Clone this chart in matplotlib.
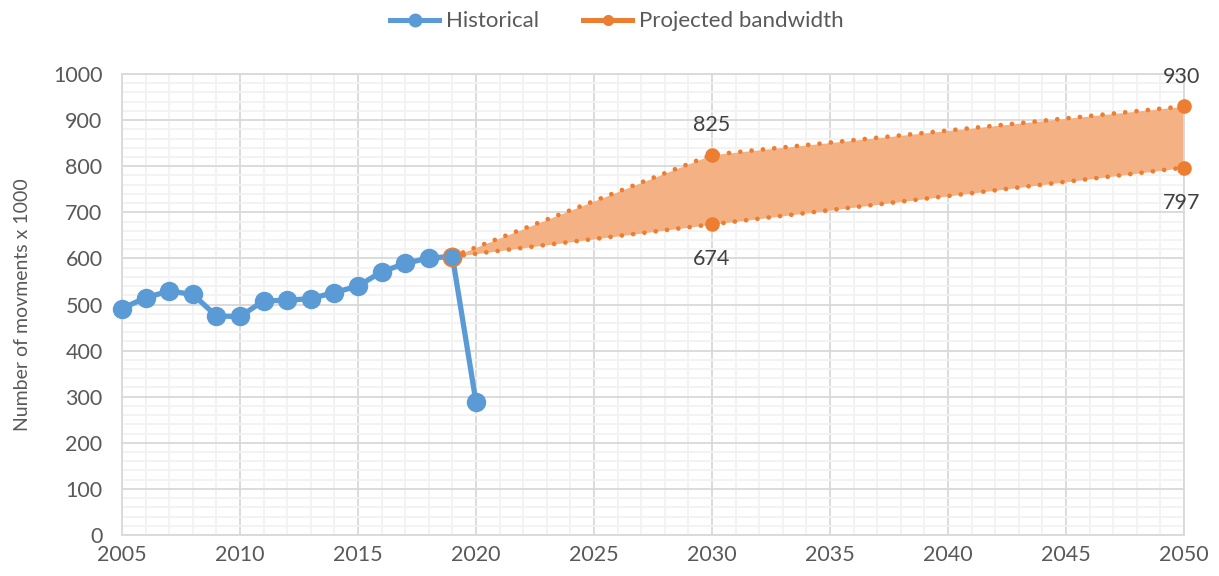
import numpy as np
import matplotlib.pyplot as plt
from matplotlib.ticker import MultipleLocator
from matplotlib.lines import Line2D

plt.rcParams['font.family'] = ['Lato', 'DejaVu Sans']

# historical movements (x 1000)
hist_years = [2005, 2006, 2007, 2008, 2009, 2010, 2011, 2012, 2013, 2014,
              2015, 2016, 2017, 2018, 2019, 2020]
hist_vals = [491, 515, 529, 522, 475, 474, 508, 509, 513, 526,
             540, 571, 589, 601, 604, 288]

# projected bandwidth
proj_years = [2019, 2030, 2050]
proj_high = [604, 825, 930]
proj_low = [604, 674, 797]

blue = '#5B9BD5'
orange = '#ED7D31'
fill_col = '#F4B183'
txt = '#595959'

fig = plt.figure(figsize=(12.19, 5.76), dpi=100)
ax = fig.add_axes([0.1001, 0.0712, 0.8712, 0.8003])

ax.fill_between(proj_years, proj_low, proj_high, color=fill_col, lw=0, zorder=2)
dots = (0, (0.01, 2.4))
ax.plot(proj_years, proj_high, color=orange, ls=dots, lw=3.4,
        dash_capstyle='round', zorder=3)
ax.plot(proj_years, proj_low, color=orange, ls=dots, lw=3.4,
        dash_capstyle='round', zorder=3)
ax.plot(proj_years[1:], proj_high[1:], 'o', color=orange, ms=9.5, zorder=4,
        clip_on=False)
ax.plot(proj_years[1:], proj_low[1:], 'o', color=orange, ms=9.5, zorder=4,
        clip_on=False)

ax.plot(hist_years, hist_vals, '-o', color=blue, lw=3.8, ms=13, zorder=5,
        clip_on=False)
# orange edge on the shared 2019 point
ax.plot([proj_years[0]], [proj_high[0]], 'o', mfc=blue, mec=orange, mew=1.2,
        ms=13, zorder=6)

lab = dict(fontsize=15.5, color='#404040', ha='center')
ax.annotate(str(proj_high[1]), (proj_years[1], proj_high[1]), xytext=(0, 14),
            textcoords='offset points', va='bottom', **lab)
ax.annotate(str(proj_low[1]), (proj_years[1], proj_low[1]), xytext=(0, -18),
            textcoords='offset points', va='top', **lab)
ax.annotate(str(proj_high[2]), (proj_years[2], proj_high[2]), xytext=(-2, 14),
            textcoords='offset points', va='bottom', **lab)
ax.annotate(str(proj_low[2]), (proj_years[2], proj_low[2]), xytext=(-2, -18),
            textcoords='offset points', va='top', **lab)

ax.set_xlim(2005, 2050)
ax.set_ylim(0, 1000)
ax.xaxis.set_major_locator(MultipleLocator(5))
ax.xaxis.set_minor_locator(MultipleLocator(1))
ax.yaxis.set_major_locator(MultipleLocator(100))
ax.yaxis.set_minor_locator(MultipleLocator(20))
ax.grid(which='major', color='#D9D9D9', lw=1.3, zorder=0)
ax.grid(which='minor', color='#F2F2F2', lw=1.3, zorder=0)
ax.set_axisbelow(True)
for s in ax.spines.values():
    s.set_color('#D9D9D9')
    s.set_linewidth(1.3)
ax.tick_params(which='both', length=0, labelsize=15.5, labelcolor=txt)
ax.tick_params(axis='y', pad=14)
ax.tick_params(axis='x', pad=7)
ax.set_ylabel('Number of movments x 1000', fontsize=14, color=txt, labelpad=16)

handles = [Line2D([], [], color=blue, lw=3.6, marker='o', ms=9),
           Line2D([], [], color=orange, lw=3.6, marker='o', ms=7)]
fig.legend(handles, ['Historical', 'Projected bandwidth'], loc='center',
           bbox_to_anchor=(0.506, 0.963), ncol=2, frameon=False, fontsize=16,
           labelcolor=txt, handlelength=2.2, handletextpad=0.3, columnspacing=2.0)

fig.savefig('out.png', dpi=100)
